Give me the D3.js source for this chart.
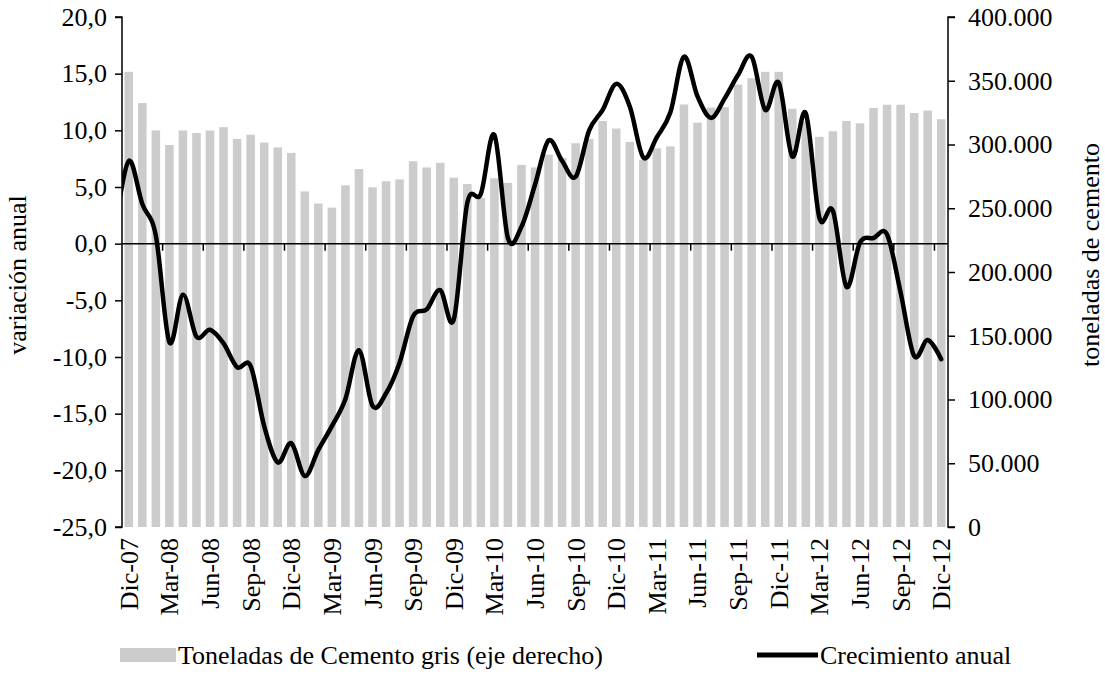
<!DOCTYPE html>
<html>
<head>
<meta charset="utf-8">
<script src="https://cdnjs.cloudflare.com/ajax/libs/d3/7.8.5/d3.min.js"></script>
<style>
  body { margin: 0; background: #fff; }
  svg text { font-family: "Liberation Serif", "Times New Roman", serif; fill: #000; }
</style>
</head>
<body>
<svg id="chart" width="1105" height="685"></svg>
<script>
// monthly categories, Dic-07 .. Dic-12
var months = ["Dic-07",
  "Ene-08","Feb-08","Mar-08","Abr-08","May-08","Jun-08","Jul-08","Ago-08","Sep-08","Oct-08","Nov-08","Dic-08",
  "Ene-09","Feb-09","Mar-09","Abr-09","May-09","Jun-09","Jul-09","Ago-09","Sep-09","Oct-09","Nov-09","Dic-09",
  "Ene-10","Feb-10","Mar-10","Abr-10","May-10","Jun-10","Jul-10","Ago-10","Sep-10","Oct-10","Nov-10","Dic-10",
  "Ene-11","Feb-11","Mar-11","Abr-11","May-11","Jun-11","Jul-11","Ago-11","Sep-11","Oct-11","Nov-11","Dic-11",
  "Ene-12","Feb-12","Mar-12","Abr-12","May-12","Jun-12","Jul-12","Ago-12","Sep-12","Oct-12","Nov-12","Dic-12"];

// toneladas de cemento gris (eje derecho)
var toneladas = [357000,
  332500,311000,299600,311000,309000,311000,313600,304400,307700,301500,297700,293400,
  263200,253700,250500,268000,280700,266400,271200,272600,286900,282000,285600,274000,
  269000,258000,273500,269900,284000,282000,292000,289500,301000,304400,318500,312500,
  302000,288000,297000,298500,331400,317100,329000,329300,347000,352000,357000,357000,
  328000,318000,306000,310400,318500,316600,328700,331200,331200,324700,326600,319800];

// crecimiento anual (%), the series starts one month earlier (Nov-07) and is clipped at the axis
var lineMonths = ["Nov-07"].concat(months);
var crecimiento = [1.5, 7.3,
  3.5,0.7,-8.7,-4.5,-8.2,-7.6,-8.8,-10.9,-10.8,-16.1,-19.3,-17.6,
  -20.5,-18.2,-16.1,-13.7,-9.4,-14.3,-13.2,-10.5,-6.4,-5.8,-4.1,-6.7,
  3.6,4.4,9.6,0.5,1.5,5.2,9.1,7.3,5.9,10.0,11.8,14.1,
  12.1,7.6,9.4,11.6,16.5,13.0,11.1,12.8,14.9,16.5,11.8,14.2,
  7.7,11.5,2.3,2.9,-3.8,0.1,0.5,0.8,-4.3,-9.9,-8.5,-10.2];

var leftTicks = [-25, -20, -15, -10, -5, 0, 5, 10, 15, 20];
var rightTicks = [0, 50000, 100000, 150000, 200000, 250000, 300000, 350000, 400000];

var es = d3.formatLocale({ decimal: ",", thousands: ".", grouping: [3], currency: ["$", ""], minus: "-" });
var fmtLeft = es.format(".1f"),
  fmtRight = es.format(",.0f");

var svg = d3.select("#chart"),
  margin = { top: 17, right: 157, bottom: 158, left: 122 },
  width = +svg.attr("width") - margin.left - margin.right,
  height = +svg.attr("height") - margin.top - margin.bottom,
  g = svg.append("g").attr("transform", "translate(" + margin.left + "," + margin.top + ")");

var x = d3.scaleBand().domain(months).range([0, width]).paddingInner(0.37).paddingOuter(0.185);
var xi = d3.scaleLinear().domain([-0.5, months.length - 0.5]).range([0, width]);
var yL = d3.scaleLinear().domain([-25, 20]).range([height, 0]);
var yR = d3.scaleLinear().domain([0, 400000]).range([height, 0]);

svg.append("defs").append("clipPath").attr("id", "plot")
  .append("rect").attr("width", width).attr("height", height);

// bars
g.selectAll(".bar")
  .data(months)
  .enter()
  .append("rect")
  .attr("class", "bar")
  .attr("x", function(d) { return x(d); })
  .attr("y", function(d, i) { return yR(toneladas[i]); })
  .attr("width", x.bandwidth())
  .attr("height", function(d, i) { return height - yR(toneladas[i]); })
  .attr("fill", "#cccccc");

// zero line with category ticks every 3 months
g.append("line")
  .attr("x1", 0).attr("x2", width)
  .attr("y1", yL(0)).attr("y2", yL(0))
  .attr("stroke", "#000").attr("stroke-width", 1.5);

var tickIdx = d3.range(3, months.length, 3);
g.selectAll(".xtick")
  .data(tickIdx)
  .enter()
  .append("line")
  .attr("x1", function(d) { return xi(d - 0.5); })
  .attr("x2", function(d) { return xi(d - 0.5); })
  .attr("y1", yL(0)).attr("y2", yL(0) + 7)
  .attr("stroke", "#000").attr("stroke-width", 1.5);

// x labels at the bottom
g.selectAll(".xlab")
  .data(months.filter(function(d, i) { return i % 3 === 0; }))
  .enter()
  .append("text")
  .attr("transform", function(d) {
    return "translate(" + (x(d) + x.bandwidth() / 2 + 9) + "," + (height + 11) + ") rotate(-90)";
  })
  .attr("text-anchor", "end")
  .style("font-size", "26px")
  .text(function(d) { return d; });

// line
var line = d3.line()
  .x(function(d, i) { return xi(i - 1); })
  .y(function(d) { return yL(d); })
  .curve(d3.curveCatmullRom.alpha(0));

g.append("path")
  .datum(crecimiento)
  .attr("clip-path", "url(#plot)")
  .attr("fill", "none")
  .attr("stroke", "#000")
  .attr("stroke-width", 4.5)
  .attr("stroke-linejoin", "round")
  .attr("stroke-linecap", "round")
  .attr("d", line);

// left axis
var axL = g.append("g")
  .call(d3.axisLeft(yL).tickValues(leftTicks).tickFormat(fmtLeft).tickSize(7).tickPadding(8));
axL.select(".domain").attr("stroke-width", 1.5).attr("d", "M-7," + height + "H0V0H-7");
axL.selectAll(".tick line").attr("stroke-width", 1.5);
axL.selectAll("text").style("font-size", "26px");

// right axis
var axR = g.append("g")
  .attr("transform", "translate(" + width + ",0)")
  .call(d3.axisRight(yR).tickValues(rightTicks).tickFormat(fmtRight).tickSize(7).tickPadding(13));
axR.select(".domain").attr("stroke-width", 1.5).attr("d", "M7," + height + "H0V0H7");
axR.selectAll(".tick line").attr("stroke-width", 1.5);
axR.selectAll("text").style("font-size", "26px");

// axis titles
svg.append("text")
  .attr("transform", "translate(26,275) rotate(-90)")
  .attr("text-anchor", "middle")
  .style("font-size", "26px")
  .text("variación anual");

svg.append("text")
  .attr("transform", "translate(1099,255) rotate(-90)")
  .attr("text-anchor", "middle")
  .style("font-size", "26px")
  .text("toneladas de cemento");

// legend
var leg = svg.append("g");
leg.append("rect")
  .attr("x", 120).attr("y", 648).attr("width", 56).attr("height", 14)
  .attr("fill", "#cccccc");
leg.append("text")
  .attr("x", 178).attr("y", 664)
  .style("font-size", "26px")
  .text("Toneladas de Cemento gris (eje derecho)");
leg.append("line")
  .attr("x1", 757).attr("x2", 818).attr("y1", 655).attr("y2", 655)
  .attr("stroke", "#000").attr("stroke-width", 5);
leg.append("text")
  .attr("x", 820).attr("y", 664)
  .style("font-size", "26px")
  .text("Crecimiento anual");
</script>
</body>
</html>
